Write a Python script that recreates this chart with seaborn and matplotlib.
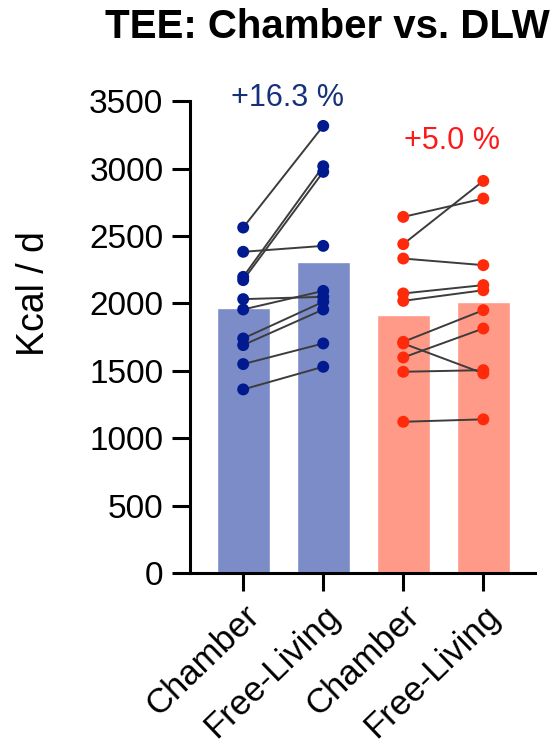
import matplotlib
matplotlib.use("Agg")
import matplotlib.pyplot as plt
import seaborn as sns
import pandas as pd

# ---- data ----
cond_keys = ["Chamber (A)", "Free-Living (A)", "Chamber (B)", "Free-Living (B)"]
tick_labels = ["Chamber", "Free-Living", "Chamber", "Free-Living"]

blue_chamber = [2563, 2383, 2197, 2173, 2032, 1955, 1740, 1691, 1550, 1362]
blue_free = [3317, 2427, 3018, 2976, 2049, 2093, 2012, 1955, 1703, 1530]
red_chamber = [2642, 2440, 2333, 2074, 2019, 1715, 1703, 1599, 1493, 1122]
red_free = [2778, 2909, 2284, 2136, 2098, 1950, 1481, 1814, 1505, 1140]

annot_texts = ["+16.3 %", "+5.0 %"]
y_ticks = [0, 500, 1000, 1500, 2000, 2500, 3000, 3500]

bar_colors = ["#7b8cc8", "#7b8cc8", "#ff9a88", "#ff9a88"]
point_colors = ["#021a8f", "#021a8f", "#ff2a0a", "#ff2a0a"]
annot_colors = ["#17307a", "#ff1a1a"]

sns.set_theme(style="ticks")
plt.rcParams["font.family"] = ["Liberation Sans", "DejaVu Sans"]

series = [blue_chamber, blue_free, red_chamber, red_free]
rows = []
for key, vals in zip(cond_keys, series):
    for subj, v in enumerate(vals):
        rows.append({"cond": key, "kcal": v, "subject": subj})
df = pd.DataFrame(rows)

fig = plt.figure(figsize=(5.55, 7.5), dpi=100)
ax = fig.add_axes([0.342, 0.236, 0.622, 0.629])

sns.barplot(data=df, x="cond", y="kcal", hue="cond", order=cond_keys,
            hue_order=cond_keys, palette=bar_colors, estimator="mean",
            errorbar=None, width=0.66, saturation=1, legend=False, ax=ax,
            zorder=1)

# paired lines
for (i0, i1) in [(0, 1), (2, 3)]:
    for a, b in zip(series[i0], series[i1]):
        ax.plot([i0, i1], [a, b], color="#3c3c3c", lw=1.4, zorder=3)

sns.stripplot(data=df, x="cond", y="kcal", hue="cond", order=cond_keys,
              hue_order=cond_keys, palette=point_colors, jitter=False,
              size=8.6, linewidth=0, legend=False, ax=ax, zorder=4)

ax.set_xlim(-0.667, 3.646)
ax.set_ylim(0, 3500)
ax.set_yticks(y_ticks)
ax.set_xticks(range(len(cond_keys)))
ax.set_xticklabels(tick_labels, rotation=44, ha="right",
                   rotation_mode="anchor", fontsize=25)
sns.despine(ax=ax)
for sp in ["left", "bottom"]:
    ax.spines[sp].set_linewidth(2.2)
    ax.spines[sp].set_color("black")
ax.tick_params(axis="both", length=13, width=2.2, colors="black", pad=6)
ax.tick_params(axis="y", labelsize=24)
ax.set_xlabel("")
ax.set_ylabel("Kcal / d", fontsize=27, color="black")
ax.yaxis.set_label_coords(-0.40, 0.593)

ax.text(0.55, 3526, annot_texts[0], color=annot_colors[0], fontsize=22,
        ha="center", va="center")
ax.text(2.615, 3203, annot_texts[1], color=annot_colors[1], fontsize=22,
        ha="center", va="center")

fig.text(0.589, 1 - 27.5 / 750, "TEE: Chamber vs. DLW", fontsize=29,
         fontweight="bold", ha="center", va="center", color="black")

fig.savefig("out.png", dpi=100)
